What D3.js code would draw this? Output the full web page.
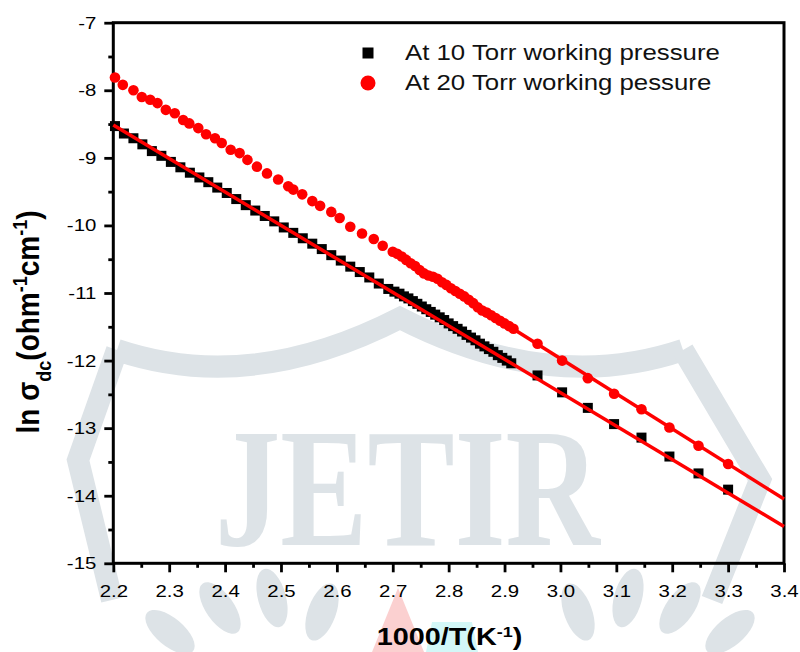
<!DOCTYPE html>
<html>
<head>
<meta charset="utf-8">
<script src="https://cdn.jsdelivr.net/npm/d3@7"></script>
<style>
	body { margin: 0; background: #fff; }
	text { font-family: "Liberation Sans", Arial, sans-serif; }
</style>
</head>
<body>
<div id="chart"></div>
<script>
// 10 Torr series (black squares)
const x10 = [2.203, 2.219, 2.236, 2.252, 2.269, 2.286, 2.303, 2.320, 2.337, 2.354, 2.370, 2.386, 2.403, 2.420, 2.437, 2.454, 2.471, 2.488, 2.505, 2.522, 2.539, 2.556, 2.573, 2.590, 2.607, 2.624, 2.641, 2.658, 2.675, 2.692, 2.703, 2.712, 2.720, 2.728, 2.736, 2.744, 2.752, 2.760, 2.768, 2.776, 2.784, 2.792, 2.800, 2.808, 2.816, 2.824, 2.832, 2.840, 2.848, 2.856, 2.864, 2.872, 2.880, 2.888, 2.896, 2.904, 2.912, 2.959, 3.003, 3.049, 3.096, 3.145, 3.195, 3.247, 3.300];
const y10 = [-8.53, -8.64, -8.71, -8.80, -8.90, -8.97, -9.06, -9.14, -9.22, -9.29, -9.36, -9.44, -9.52, -9.61, -9.70, -9.78, -9.86, -9.94, -10.03, -10.11, -10.19, -10.27, -10.35, -10.44, -10.52, -10.61, -10.69, -10.77, -10.86, -10.94, -10.98, -11.01, -11.05, -11.08, -11.12, -11.16, -11.20, -11.24, -11.28, -11.32, -11.36, -11.40, -11.45, -11.49, -11.53, -11.57, -11.62, -11.66, -11.70, -11.75, -11.79, -11.83, -11.87, -11.92, -11.96, -12.00, -12.04, -12.22, -12.47, -12.70, -12.94, -13.14, -13.42, -13.67, -13.91];

// 20 Torr series (red circles)
const x20 = [2.203, 2.217, 2.236, 2.251, 2.266, 2.279, 2.294, 2.310, 2.325, 2.336, 2.352, 2.366, 2.382, 2.394, 2.410, 2.426, 2.440, 2.457, 2.475, 2.495, 2.513, 2.522, 2.538, 2.556, 2.570, 2.590, 2.605, 2.624, 2.645, 2.666, 2.682, 2.700, 2.708, 2.716, 2.724, 2.732, 2.740, 2.748, 2.756, 2.764, 2.772, 2.780, 2.788, 2.796, 2.804, 2.812, 2.820, 2.828, 2.836, 2.844, 2.852, 2.860, 2.868, 2.876, 2.884, 2.892, 2.900, 2.908, 2.916, 2.959, 3.003, 3.049, 3.096, 3.145, 3.195, 3.247, 3.300];
const y20 = [-7.81, -7.92, -8.00, -8.10, -8.14, -8.19, -8.29, -8.34, -8.44, -8.49, -8.56, -8.65, -8.71, -8.78, -8.88, -8.93, -9.03, -9.13, -9.23, -9.32, -9.42, -9.47, -9.54, -9.64, -9.71, -9.80, -9.89, -10.02, -10.12, -10.20, -10.30, -10.39, -10.42, -10.46, -10.51, -10.56, -10.60, -10.66, -10.71, -10.74, -10.76, -10.79, -10.84, -10.88, -10.93, -10.97, -11.01, -11.05, -11.10, -11.15, -11.21, -11.26, -11.29, -11.33, -11.37, -11.41, -11.45, -11.49, -11.53, -11.75, -12.00, -12.26, -12.49, -12.72, -12.99, -13.26, -13.53];

// linear fits (end points)
const fit10X = [2.2, 3.4];
const fit10Y = [-8.515, -14.455];
const fit20X = [2.7, 3.4];
const fit20Y = [-10.41, -14.05];

// ticks
const xTickValues = [2.2, 2.3, 2.4, 2.5, 2.6, 2.7, 2.8, 2.9, 3.0, 3.1, 3.2, 3.3, 3.4];
const xMinorTicks = [2.25, 2.35, 2.45, 2.55, 2.65, 2.75, 2.85, 2.95, 3.05, 3.15, 3.25, 3.35];
const yTickValues = [-15, -14, -13, -12, -11, -10, -9, -8, -7];
const yMinorTicks = [-14.5, -13.5, -12.5, -11.5, -10.5, -9.5, -8.5, -7.5];

const legendLabels = ["At 10 Torr working pressure", "At 20 Torr working pessure"];

const width = 800;
const height = 652;
const sx = 1.2; // the figure is stretched sideways

const margin = { top: 22.7, right: 16, bottom: 88.7, left: 113.3 };

const svg = d3
	.select("#chart")
	.append("svg")
	.attr("width", width)
	.attr("height", height)
	.style("background", "#fff");

// watermark behind the chart
const wm = svg.append("g").attr("fill", "none").attr("stroke", "#dde3e7").attr("stroke-width", 22);
wm.append("path").attr("d", "M117,350 Q250,395 400,318 Q550,395 683,350");
wm.append("path").attr("d", "M683,350 L760,480 L712,600");
wm.append("path").attr("d", "M117,350 L78,460 L112,600");
const leaves = [[170, 632, -50], [220, 608, -35], [272, 598, -15], [322, 612, 20], [578, 612, -20], [628, 598, 15], [680, 608, 35], [730, 632, 50]];
leaves.forEach(([cx, cy, r]) => {
	svg.append("ellipse")
		.attr("cx", cx).attr("cy", cy).attr("rx", 14).attr("ry", 30)
		.attr("transform", `rotate(${r}, ${cx}, ${cy})`)
		.attr("fill", "#dde3e7");
});
svg.append("path").attr("d", "M398,588 L372,652 L424,652 Z").attr("fill", "#fbd0d0");
svg.append("path").attr("d", "M432,622 L472,622 L478,652 L426,652 Z").attr("fill", "#d3f7f7");
svg.append("text")
	.attr("x", 215)
	.attr("y", 545)
	.attr("textLength", 385)
	.attr("lengthAdjust", "spacingAndGlyphs")
	.style("font-family", "'Liberation Serif', 'DejaVu Serif', serif")
	.style("font-size", "170px")
	.style("font-weight", "bold")
	.attr("fill", "#dde3e7")
	.text("JETIR");

// scales
const xScale = d3.scaleLinear().domain([2.2, 3.4]).range([margin.left, width - margin.right]);
const yScale = d3.scaleLinear().domain([-15, -7]).range([height - margin.bottom, margin.top]);

// axes
const xAxis = svg.append("g")
	.attr("transform", `translate(0, ${height - margin.bottom})`)
	.call(d3.axisBottom(xScale).tickValues(xTickValues).tickSize(9).tickPadding(13).tickFormat(d3.format(".1f")));
const xMinor = svg.append("g")
	.attr("transform", `translate(0, ${height - margin.bottom})`)
	.call(d3.axisBottom(xScale).tickValues(xMinorTicks).tickSize(4.5).tickFormat(""));
const yAxis = svg.append("g")
	.attr("transform", `translate(${margin.left}, 0)`)
	.call(d3.axisLeft(yScale).tickValues(yTickValues).tickSize(9).tickPadding(8).tickFormat((d) => String(d)));
const yMinor = svg.append("g")
	.attr("transform", `translate(${margin.left}, 0)`)
	.call(d3.axisLeft(yScale).tickValues(yMinorTicks).tickSize(5).tickFormat(""));

[xAxis, xMinor, yAxis, yMinor].forEach((g) => {
	g.select(".domain").remove();
	g.selectAll("line").attr("stroke", "#000").attr("stroke-width", 2.8);
});
xAxis.selectAll("text")
	.style("font-size", "17px")
	.attr("fill", "#000")
	.attr("transform", `scale(${sx},1)`);
yAxis.selectAll("text")
	.style("font-size", "17px")
	.attr("fill", "#000")
	.attr("x", -17 / sx)
	.attr("transform", `scale(${sx},1)`);

// frame
svg.append("rect")
	.attr("x", margin.left)
	.attr("y", margin.top)
	.attr("width", width - margin.right - margin.left)
	.attr("height", height - margin.bottom - margin.top)
	.attr("fill", "none")
	.attr("stroke", "#000")
	.attr("stroke-width", 3);

const plot = svg.append("g");

// black squares then the fit drawn over them
const sq = 10;
plot.selectAll("rect.p10")
	.data(d3.zip(x10, y10))
	.enter()
	.append("rect")
	.attr("class", "p10")
	.attr("x", (d) => xScale(d[0]) - sq / 2)
	.attr("y", (d) => yScale(d[1]) - sq / 2)
	.attr("width", sq)
	.attr("height", sq)
	.attr("fill", "#000");

const line = d3.line().x((d) => xScale(d[0])).y((d) => yScale(d[1]));

plot.append("path")
	.datum(d3.zip(fit10X, fit10Y))
	.attr("d", line)
	.attr("fill", "none")
	.attr("stroke", "#ff0000")
	.attr("stroke-width", 3.5);

plot.append("path")
	.datum(d3.zip(fit20X, fit20Y))
	.attr("d", line)
	.attr("fill", "none")
	.attr("stroke", "#ff0000")
	.attr("stroke-width", 3.5);

plot.selectAll("circle.p20")
	.data(d3.zip(x20, y20))
	.enter()
	.append("circle")
	.attr("class", "p20")
	.attr("cx", (d) => xScale(d[0]))
	.attr("cy", (d) => yScale(d[1]))
	.attr("r", 5.3)
	.attr("fill", "#ff0000");

// legend
const legend = svg.append("g");
legend.append("rect")
	.attr("x", 368 - 5.5).attr("y", 53 - 5.5)
	.attr("width", 11).attr("height", 11)
	.attr("fill", "#000");
legend.append("circle")
	.attr("cx", 368).attr("cy", 83).attr("r", 7.5)
	.attr("fill", "#ff0000");
legendLabels.forEach((label, i) => {
	legend.append("g")
		.attr("transform", `translate(405, ${59.5 + i * 30.5}) scale(${sx},1)`)
		.append("text")
		.style("font-size", "21.5px")
		.attr("fill", "#111")
		.text(label);
});

// x axis label
const xLabel = svg.append("g")
	.attr("transform", `translate(449.5, 645) scale(${sx},1)`)
	.append("text")
	.style("text-anchor", "middle")
	.style("font-size", "24px")
	.style("font-weight", "bold")
	.attr("fill", "#000");
xLabel.append("tspan").text("1000/T(K");
xLabel.append("tspan").attr("baseline-shift", "super").style("font-size", "15px").text("-1");
xLabel.append("tspan").text(")");

// y axis label
const yLabel = svg.append("g")
	.attr("transform", `translate(39, 322) rotate(-90) scale(1,1.15)`)
	.append("text")
	.style("text-anchor", "middle")
	.style("font-size", "28px")
	.style("font-weight", "bold")
	.attr("fill", "#000");
yLabel.append("tspan").text("ln σ");
yLabel.append("tspan").attr("baseline-shift", "sub").style("font-size", "18px").text("dc");
yLabel.append("tspan").text("(ohm");
yLabel.append("tspan").attr("baseline-shift", "super").style("font-size", "18px").text("-1");
yLabel.append("tspan").text("cm");
yLabel.append("tspan").attr("baseline-shift", "super").style("font-size", "18px").text("-1");
yLabel.append("tspan").text(")");
</script>
</body>
</html>
